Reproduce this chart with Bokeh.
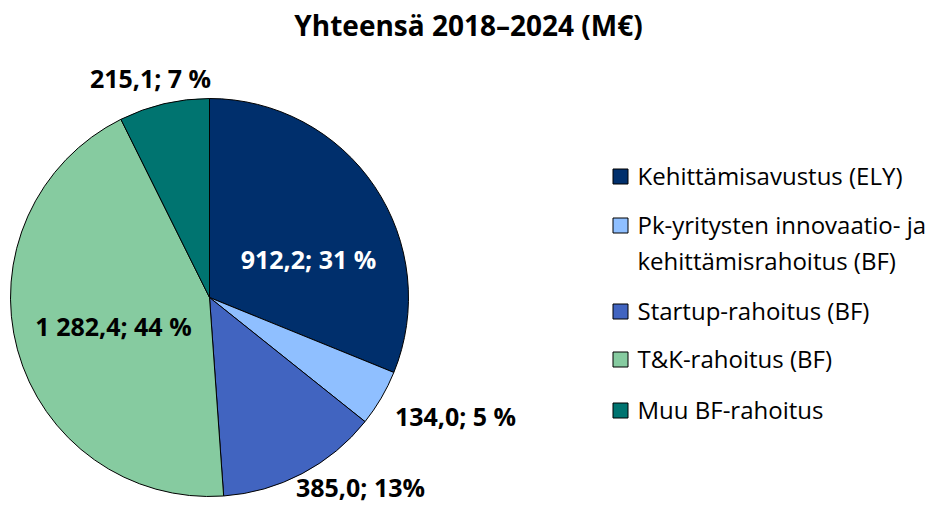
import numpy as np
from bokeh.plotting import figure
from bokeh.models import Range1d
from bokeh.core.properties import value
from bokeh.embed import file_html
from bokeh.resources import INLINE

title = "Yhteensä 2018–2024 (M€)"
categories = ["Kehittämisavustus (ELY)",
              "Pk-yritysten innovaatio- ja\nkehittämisrahoitus (BF)",
              "Startup-rahoitus (BF)",
              "T&K-rahoitus (BF)",
              "Muu BF-rahoitus"]
values = [912.2, 134.0, 385.0, 1282.4, 215.1]
labels = ["912,2; 31 %", "134,0; 5 %", "385,0; 13%", "1 282,4; 44 %", "215,1; 7 %"]
colors = ["#002f6c", "#8fbfff", "#4164c0", "#86cba0", "#007470"]
label_colors = ["white", "black", "black", "black", "black"]

W, H = 930, 503
FONT = "Open Sans"

p = figure(width=W, height=H, output_backend="svg", toolbar_location=None,
           x_range=Range1d(0, W), y_range=Range1d(0, H), min_border=0)
p.axis.visible = False
p.grid.visible = False
p.outline_line_color = None
p.background_fill_color = "white"

def Y(py):
    return H - py

cx, cy, r = 209, Y(297), 199
vals = np.array(values)
frac = vals / vals.sum()
cum = np.concatenate([[0], np.cumsum(frac)])
start = np.pi / 2 - 2 * np.pi * cum[:-1]
end = np.pi / 2 - 2 * np.pi * cum[1:]

p.wedge(x=cx, y=cy, radius=r, start_angle=start, end_angle=end,
        direction="clock", fill_color=colors, line_color="black", line_width=1)

# data labels
lx = [308, 455, 360, 113, 150]
ly = [Y(258), Y(415), Y(486), Y(325), Y(77)]
p.text(x=lx, y=ly, text=labels, text_color=label_colors,
       text_font=value(FONT), text_font_style="bold", text_font_size="25px",
       text_align="center", text_baseline="middle")

# title
p.text(x=[468], y=[Y(24)], text=[title], text_font=value(FONT),
       text_font_style="bold", text_font_size="28px", text_color="black",
       text_align="center", text_baseline="middle")

# legend
sq_y = [Y(176), Y(225), Y(311), Y(359), Y(410)]
p.rect(x=[620] * 5, y=sq_y, width=15, height=15,
       width_units="screen", height_units="screen",
       fill_color=colors, line_color="black", line_width=1)
p.text(x=[637] * 5, y=[v + 18 for v in sq_y], text=categories,
       text_font=value(FONT), text_font_size="24px", text_color="black",
       text_align="left", text_baseline="top", text_line_height=1.1)

open("out.html", "w").write(file_html(p, INLINE))
